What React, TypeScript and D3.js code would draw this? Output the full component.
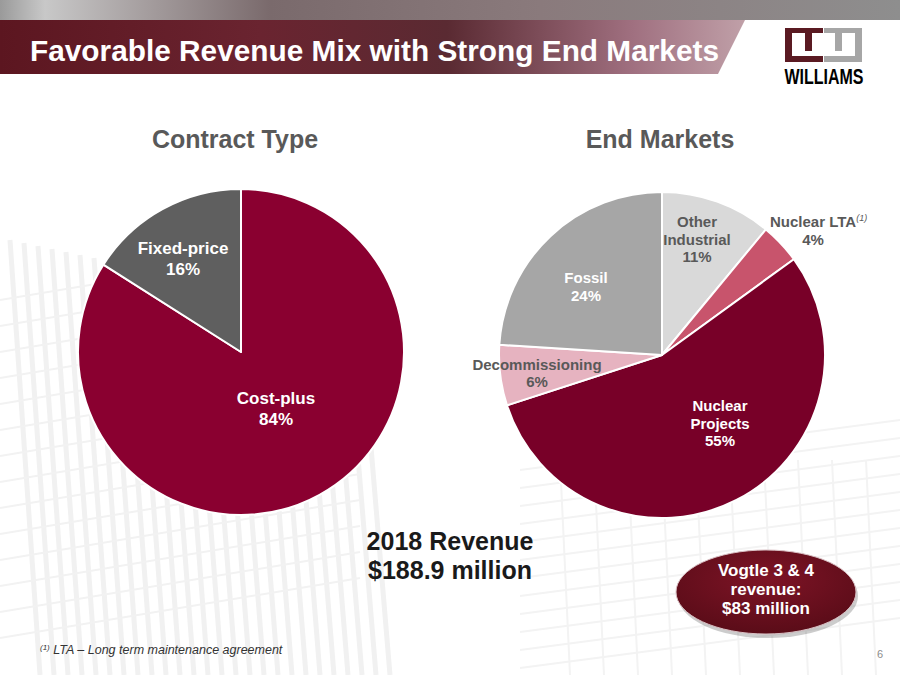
import React from "react";
import * as d3 from "d3";

const contractLabels = ["Cost-plus", "Fixed-price"];
const contractValues = [84, 16];
const contractColors = ["#8a0030", "#5f5f5f"];

const marketLabels = ["Other Industrial", "Nuclear LTA", "Nuclear Projects", "Decommissioning", "Fossil"];
const marketValues = [11, 4, 55, 6, 24];
const marketColors = ["#d9d9d9", "#c8546c", "#780028", "#e6b3c0", "#a6a6a6"];

const W = 900;
const H = 675;
const FONT = "Liberation Sans, Arial, sans-serif";

function Pie({ cx, cy, r, values, colors }: { cx: number; cy: number; r: number; values: number[]; colors: string[] }) {
  const pie = d3.pie<number>().sort(null).value((d) => d)(values);
  const arc = d3.arc<d3.PieArcDatum<number>>().innerRadius(0).outerRadius(r);
  return (
    <g transform={`translate(${cx},${cy})`}>
      {pie.map((p, i) => (
        <path key={i} d={arc(p) || ""} fill={colors[i]} stroke="#ffffff" strokeWidth={2} strokeLinejoin="round" />
      ))}
    </g>
  );
}

function Lines({ x, y, lines, size, fill, lh }: { x: number; y: number; lines: string[]; size: number; fill: string; lh: number }) {
  return (
    <text x={x} y={y} textAnchor="middle" fontFamily={FONT} fontWeight="bold" fontSize={size} fill={fill}>
      {lines.map((l, i) => (
        <tspan key={i} x={x} dy={i === 0 ? 0 : lh}>
          {l}
        </tspan>
      ))}
    </text>
  );
}

export default function App() {
  const bgLines: JSX.Element[] = [];
  // faint building-like background pattern
  for (let i = 0; i < 26; i++) {
    const x = 10 + i * 14;
    bgLines.push(<line key={"v" + i} x1={x} y1={240 + i * 3} x2={x + 30} y2={675} stroke="#f1f1f1" strokeWidth={5} />);
  }
  for (let i = 0; i < 14; i++) {
    const y = 300 + i * 26;
    bgLines.push(<line key={"h" + i} x1={0} y1={y} x2={360} y2={y - 60} stroke="#f2f2f2" strokeWidth={2} />);
  }
  for (let i = 0; i < 12; i++) {
    const y = 470 + i * 18;
    bgLines.push(<line key={"r" + i} x1={520} y1={y} x2={900} y2={y - 50} stroke="#f3f3f3" strokeWidth={2} />);
  }
  for (let i = 0; i < 10; i++) {
    const x = 560 + i * 34;
    bgLines.push(<line key={"rv" + i} x1={x} y1={460} x2={x + 10} y2={675} stroke="#f3f3f3" strokeWidth={2} />);
  }

  return (
    <svg width={W} height={H} viewBox={`0 0 ${W} ${H}`} style={{ position: "absolute", left: 0, top: 0, display: "block" }}>
      <defs>
        <linearGradient id="topbar" x1="0" x2="1" y1="0" y2="0">
          <stop offset="0" stopColor="#9a9a9a" />
          <stop offset="0.05" stopColor="#c8c8c8" />
          <stop offset="0.3" stopColor="#7a6a6c" />
          <stop offset="0.6" stopColor="#8a7a7c" />
          <stop offset="1" stopColor="#8e8e8e" />
        </linearGradient>
        <linearGradient id="band" x1="0" x2="1" y1="0" y2="0">
          <stop offset="0" stopColor="#5c1620" />
          <stop offset="0.35" stopColor="#6a2430" />
          <stop offset="0.6" stopColor="#5a2a32" />
          <stop offset="0.85" stopColor="#a07080" />
          <stop offset="1" stopColor="#c0a0a8" />
        </linearGradient>
        <radialGradient id="bubble" cx="0.5" cy="0.35" r="0.65">
          <stop offset="0" stopColor="#7e1426" />
          <stop offset="1" stopColor="#5a0c18" />
        </radialGradient>
      </defs>
      <rect x={0} y={0} width={W} height={H} fill="#ffffff" />
      {bgLines}

      {/* header */}
      <rect x={0} y={0} width={W} height={20} fill="url(#topbar)" />
      <polygon points="0,20 745,20 718,74 0,74" fill="url(#band)" />
      <text x={30} y={61} fontFamily={FONT} fontWeight="bold" fontSize={30} fill="#ffffff" textLength={689} lengthAdjust="spacingAndGlyphs">
        Favorable Revenue Mix with Strong End Markets
      </text>

      {/* logo */}
      <g>
        <rect x={785} y={28} width={38} height={34} fill="#5a1a22" />
        <rect x={792} y={33} width={31} height={23} fill="#ffffff" />
        <rect x={805} y={28} width={7} height={23} fill="#5a1a22" />
        <rect x={824} y={28} width={38} height={34} fill="#a6a6a6" />
        <rect x={824} y={33} width={31} height={23} fill="#ffffff" />
        <rect x={835} y={28} width={7} height={23} fill="#a6a6a6" />
        <text x={824} y={84} textAnchor="middle" fontFamily={FONT} fontWeight="bold" fontSize={22} fill="#000000" textLength={79} lengthAdjust="spacingAndGlyphs">
          WILLIAMS
        </text>
      </g>

      {/* section titles */}
      <text x={235} y={148} textAnchor="middle" fontFamily={FONT} fontWeight="bold" fontSize={25} fill="#595959">
        Contract Type
      </text>
      <text x={660} y={148} textAnchor="middle" fontFamily={FONT} fontWeight="bold" fontSize={25} fill="#595959">
        End Markets
      </text>

      {/* pies */}
      <Pie cx={241} cy={352} r={163} values={contractValues} colors={contractColors} />
      <Pie cx={662} cy={355} r={163} values={marketValues} colors={marketColors} />

      {/* left labels */}
      <Lines x={183} y={254} lines={[contractLabels[1], contractValues[1] + "%"]} size={17} fill="#ffffff" lh={21} />
      <Lines x={276} y={404} lines={[contractLabels[0], contractValues[0] + "%"]} size={17} fill="#ffffff" lh={21} />

      {/* right labels */}
      <Lines x={697} y={227} lines={["Other", "Industrial", marketValues[0] + "%"]} size={15} fill="#595959" lh={17.5} />
      <text x={770} y={227} fontFamily={FONT} fontWeight="bold" fontSize={15} fill="#595959">
        {marketLabels[1]}
        <tspan fontSize={9} fontWeight="normal" fontStyle="italic" dy={-6}>
          (1)
        </tspan>
      </text>
      <Lines x={813} y={245} lines={[marketValues[1] + "%"]} size={15} fill="#595959" lh={17} />
      <Lines x={586} y={283} lines={[marketLabels[4], marketValues[4] + "%"]} size={15} fill="#ffffff" lh={18} />
      <Lines x={537} y={370} lines={[marketLabels[3], marketValues[3] + "%"]} size={15} fill="#595959" lh={17} />
      <Lines x={720} y={411} lines={["Nuclear", "Projects", marketValues[2] + "%"]} size={15} fill="#ffffff" lh={17.5} />

      {/* revenue */}
      <Lines x={450} y={550} lines={["2018 Revenue", "$188.9 million"]} size={25} fill="#1a1a1a" lh={29} />

      {/* bubble */}
      <ellipse cx={766} cy={593} rx={90} ry={42} fill="#333" opacity={0.25} transform="translate(2,3)" />
      <ellipse cx={766} cy={592} rx={90} ry={42} fill="url(#bubble)" stroke="#d9c0c4" strokeWidth={1} />
      <Lines x={766} y={576} lines={["Vogtle 3 & 4", "revenue:", "$83 million"]} size={17} fill="#ffffff" lh={19} />

      {/* footnote */}
      <text x={40} y={654} fontFamily={FONT} fontStyle="italic" fontSize={12.5} fill="#333333">
        <tspan fontSize={8} dy={-4}>(1)</tspan>
        <tspan dy={4}> LTA – Long term maintenance agreement</tspan>
      </text>
      <text x={880} y={658} textAnchor="middle" fontFamily={FONT} fontSize={11} fill="#8c8c8c">
        6
      </text>
    </svg>
  );
}
